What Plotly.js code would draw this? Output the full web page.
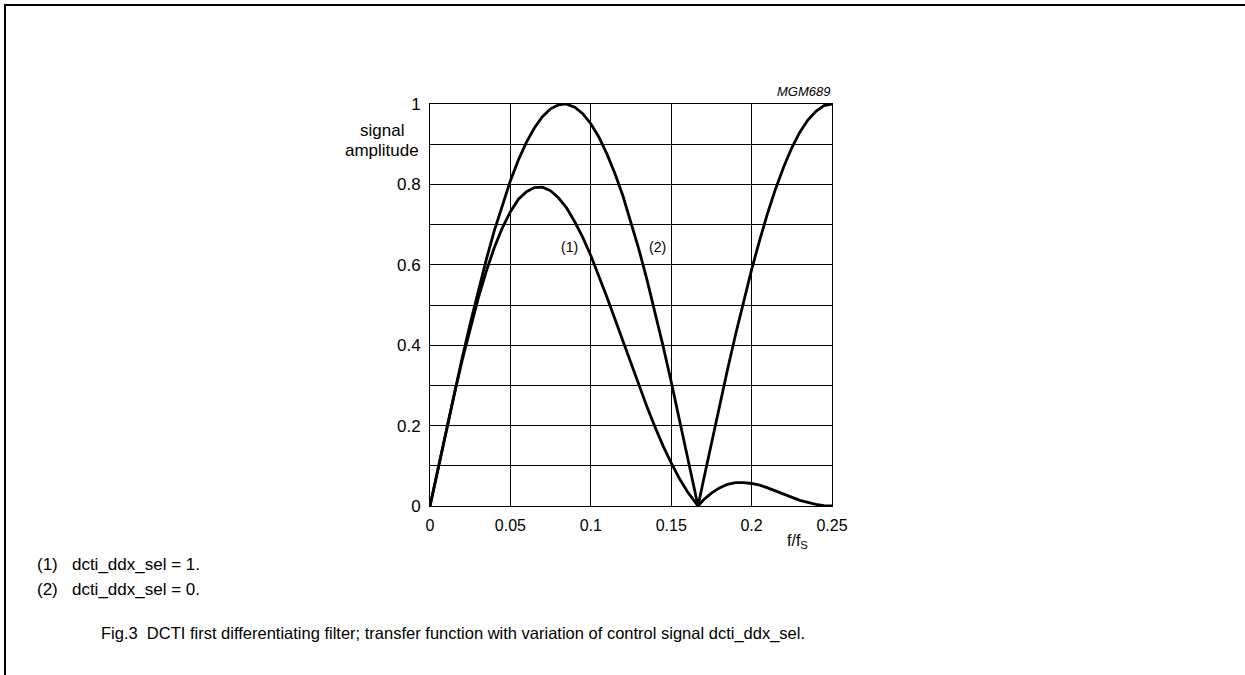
<!DOCTYPE html>
<html>
<head>
<meta charset="utf-8">
<script src="https://cdn.plot.ly/plotly-3.0.1.min.js"></script>
<style>
  html, body { margin: 0; padding: 0; background: #fff; }
  #wrap { position: relative; width: 1245px; height: 675px; overflow: hidden; }
  #chart { width: 1245px; height: 675px; }
  #frame { position: absolute; left: 4px; top: 4px; width: 1260px; height: 700px;
           border-top: 2px solid #000; border-left: 2px solid #000; pointer-events: none; }
</style>
</head>
<body>
<div id="wrap">
  <div id="chart"></div>
  <div id="frame"></div>
</div>
<script>
// f / fs sample positions
const freq = [0, 0.005, 0.01, 0.015, 0.02, 0.025, 0.03, 0.035, 0.04, 0.045,
  0.05, 0.055, 0.06, 0.065, 0.07, 0.075, 0.08, 0.0833, 0.085, 0.09, 0.095,
  0.1, 0.105, 0.11, 0.115, 0.12, 0.125, 0.13, 0.135, 0.14, 0.145,
  0.15, 0.155, 0.16, 0.165, 0.1667, 0.17, 0.175, 0.18, 0.185, 0.19, 0.195,
  0.2, 0.205, 0.21, 0.215, 0.22, 0.225, 0.23, 0.235, 0.24, 0.245, 0.25];

// (1) dcti_ddx_sel = 1
const amp1 = [0, 0.094, 0.186, 0.276, 0.362, 0.443, 0.517, 0.584, 0.643, 0.692,
  0.732, 0.763, 0.782, 0.792, 0.793, 0.784, 0.766, 0.75, 0.741, 0.707, 0.668,
  0.623, 0.573, 0.520, 0.465, 0.409, 0.354, 0.299, 0.246, 0.196, 0.149,
  0.107, 0.069, 0.036, 0.008, 0, 0.015, 0.032, 0.045, 0.054, 0.058, 0.058,
  0.056, 0.052, 0.045, 0.037, 0.030, 0.022, 0.014, 0.009, 0.004, 0.001, 0];

// (2) dcti_ddx_sel = 0
const amp2 = [0, 0.094, 0.187, 0.279, 0.368, 0.454, 0.536, 0.613, 0.685, 0.750,
  0.809, 0.861, 0.905, 0.941, 0.969, 0.988, 0.998, 1.0, 0.9995, 0.992, 0.976,
  0.951, 0.918, 0.876, 0.827, 0.771, 0.707, 0.637, 0.562, 0.482, 0.397,
  0.309, 0.218, 0.125, 0.031, 0, 0.063, 0.156, 0.249, 0.339, 0.426, 0.508,
  0.588, 0.661, 0.729, 0.790, 0.844, 0.891, 0.930, 0.960, 0.982, 0.996, 1.0];

const xTickVals = [0, 0.05, 0.1, 0.15, 0.2, 0.25];
const xTickText = ['0', '0.05', '0.1', '0.15', '0.2', '0.25'];
const yTickVals = [0, 0.2, 0.4, 0.6, 0.8, 1];
const yTickText = ['0', '0.2', '0.4', '0.6', '0.8', '1'];

const FONT = 'Arial, "Liberation Sans", Helvetica, sans-serif';

const traces = [
  { x: freq, y: amp1, type: 'scatter', mode: 'lines', name: '(1)',
    line: { color: '#000', width: 2.8 }, hoverinfo: 'skip' },
  { x: freq, y: amp2, type: 'scatter', mode: 'lines', name: '(2)',
    line: { color: '#000', width: 2.8 }, hoverinfo: 'skip' }
];

const layout = {
  width: 1245, height: 675,
  margin: { l: 430, r: 413, t: 104, b: 169, pad: 0 },
  paper_bgcolor: '#fff', plot_bgcolor: '#fff',
  showlegend: false,
  font: { family: FONT, color: '#000', size: 16 },
  xaxis: {
    range: [0, 0.25], tickvals: xTickVals, ticktext: xTickText,
    showgrid: true, gridcolor: '#000', gridwidth: 1,
    zeroline: false, showline: true, mirror: true, linecolor: '#000', linewidth: 1,
    ticks: '', ticklabelstandoff: 5, tickfont: { size: 16, family: FONT }
  },
  yaxis: {
    range: [0, 1], tickvals: yTickVals, ticktext: yTickText,
    showgrid: true, gridcolor: '#000', gridwidth: 1,
    minor: { dtick: 0.1, showgrid: true, gridcolor: '#000', gridwidth: 1, ticks: '' },
    zeroline: false, showline: true, mirror: true, linecolor: '#000', linewidth: 1,
    ticks: '', ticklabelstandoff: 5, tickfont: { size: 17, family: FONT }
  },
  annotations: [
    { xref: 'paper', yref: 'paper', x: -0.12, y: 0.935, text: 'signal',
      showarrow: false, xanchor: 'center', yanchor: 'middle', font: { size: 17 } },
    { xref: 'paper', yref: 'paper', x: -0.12, y: 0.885, text: 'amplitude',
      showarrow: false, xanchor: 'center', yanchor: 'middle', font: { size: 17 } },
    { xref: 'paper', yref: 'paper', x: 1.0, y: 1.032, text: '<i>MGM689</i>',
      showarrow: false, xanchor: 'right', yanchor: 'middle', font: { size: 13 } },
    { xref: 'paper', yref: 'paper', x: 0.915, y: -0.088, text: 'f/f<sub>S</sub>',
      showarrow: false, xanchor: 'center', yanchor: 'middle', font: { size: 16 } },
    { xref: 'x', yref: 'y', x: 0.0868, y: 0.645, text: '(1)',
      showarrow: false, xanchor: 'center', yanchor: 'middle', font: { size: 14 } },
    { xref: 'x', yref: 'y', x: 0.1412, y: 0.645, text: '(2)',
      showarrow: false, xanchor: 'center', yanchor: 'middle', font: { size: 14 } },
    { xref: 'paper', yref: 'paper', x: -0.983, y: -0.145, text: '(1)&nbsp;&nbsp;&nbsp;dcti_ddx_sel = 1.',
      showarrow: false, xanchor: 'left', yanchor: 'middle', font: { size: 17 } },
    { xref: 'paper', yref: 'paper', x: -0.983, y: -0.207, text: '(2)&nbsp;&nbsp;&nbsp;dcti_ddx_sel = 0.',
      showarrow: false, xanchor: 'left', yanchor: 'middle', font: { size: 17 } },
    { xref: 'paper', yref: 'paper', x: 0.056, y: -0.318,
      text: 'Fig.3&nbsp;&nbsp;DCTI first differentiating filter; transfer function with variation of control signal dcti_ddx_sel.',
      showarrow: false, xanchor: 'center', yanchor: 'middle', font: { size: 16.5 } }
  ]
};

Plotly.newPlot('chart', traces, layout, { staticPlot: true, displayModeBar: false });
</script>
</body>
</html>
